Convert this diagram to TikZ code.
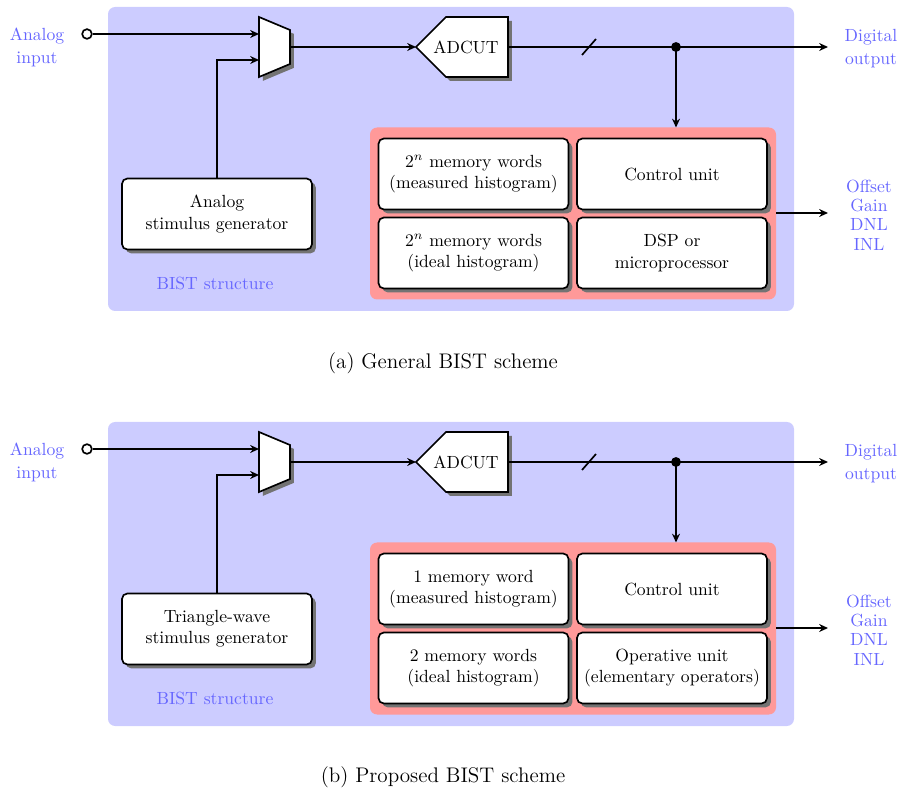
\documentclass[tikz,border=0pt]{standalone}
\usetikzlibrary{arrows.meta,shadows}
\definecolor{bistbg}{RGB}{204,204,255}
\definecolor{bisttxt}{RGB}{102,102,255}
\definecolor{memred}{RGB}{255,153,153}
\tikzset{
  wire/.style={line width=0.95pt},
  sig/.style={wire,-{Stealth[length=5pt,width=4.5pt]}},
  boxshadow/.style={drop shadow={shadow xshift=2.2pt,shadow yshift=-2.2pt,fill=black!55,opacity=1}},
  unitbox/.style={draw,wire,fill=white,rounded corners=3pt,
    minimum width=107.9pt,minimum height=40.3pt,align=center,inner sep=2pt,boxshadow},
  lbl/.style={text=bisttxt,align=center,inner sep=0pt},
  caption/.style={font=\large},
}
% One BIST block diagram; #1 name prefix, #2 vertical offset,
% #3 generator text, #4/#5 memory texts, #6 processing unit text
\newcommand\bistpanel[6]{%
\begin{scope}[shift={(0,#2)}]
  \fill[bistbg,rounded corners=4pt] (108,7) rectangle (794,311);
  \fill[memred,rounded corners=4pt] (370,127.5) rectangle (776,299.5);
  % multiplexer
  \draw[wire,fill=white,boxshadow] (259,17) -- (290,30) -- (290,64) -- (259,77) -- cycle;
  \coordinate (#1-mi1) at (259,34);
  \coordinate (#1-mi2) at (259,60);
  \coordinate (#1-mo) at (290,47);
  % converter under test
  \draw[wire,fill=white,boxshadow] (416,47) -- (446,17) -- (508,17) -- (508,77) -- (446,77) -- cycle;
  \node (#1-adc) at (466,47) {ADCUT};
  \coordinate (#1-ai) at (416,47);
  \coordinate (#1-ao) at (508,47);
  % input terminal
  \node[draw,wire,circle,fill=white,minimum size=5.5pt,inner sep=0pt] (#1-in) at (87,34) {};
  \node[lbl] at (37,47) {Analog\\[1pt]input};
  % generator
  \node[unitbox] (#1-gen) at (217,214) {#3};
  \node[lbl] at (215,283) {BIST structure};
  % memory / processing units
  \node[unitbox] (#1-m1) at (473.5,174) {#4};
  \node[unitbox] (#1-cu) at (672,174) {Control unit};
  \node[unitbox] (#1-m2) at (473.5,253) {#5};
  \node[unitbox] (#1-dsp) at (672,253) {#6};
  \coordinate (#1-red) at (776,213);
  \coordinate (#1-redtop) at (676,127.5);
  % outputs
  \coordinate (#1-dout) at (828,47);
  \coordinate (#1-rout) at (828,213);
  \node[lbl] at (871,49) {Digital\\[1pt]output};
  \node[lbl] at (869,215) {Offset\\[-1pt]Gain\\[-1pt]DNL\\[-1pt]INL};
  % connectors
  \draw[sig] (#1-in) -- (#1-mi1);
  \draw[sig] (#1-gen.north) |- (#1-mi2);
  \draw[sig] (#1-mo) -- (#1-ai);
  \draw[sig] (#1-ao) -- (#1-dout);
  \fill (676,47) circle (2.8pt) coordinate (#1-dot);
  \draw[sig] (#1-dot) -- (#1-redtop);
  \draw[sig] (#1-red) -- (#1-rout);
  \draw[wire] (582,55) -- (596,39);
\end{scope}}

\begin{document}
\begin{tikzpicture}[x=0.568pt,y=-0.568pt]
  \useasboundingbox (0,0) rectangle (901,791);
  \bistpanel{a}{0}{Analog\\stimulus generator}
    {$2^n$ memory words\\(measured histogram)}
    {$2^n$ memory words\\(ideal histogram)}
    {DSP or\\microprocessor}
  \node[caption] (capa) at (443,363) {(a) General BIST scheme};
  \bistpanel{b}{415}{Triangle-wave\\stimulus generator}
    {1 memory word\\(measured histogram)}
    {2 memory words\\(ideal histogram)}
    {Operative unit\\(elementary operators)}
  \node[caption] (capb) at (443,777) {(b) Proposed BIST scheme};
\end{tikzpicture}
\end{document}
